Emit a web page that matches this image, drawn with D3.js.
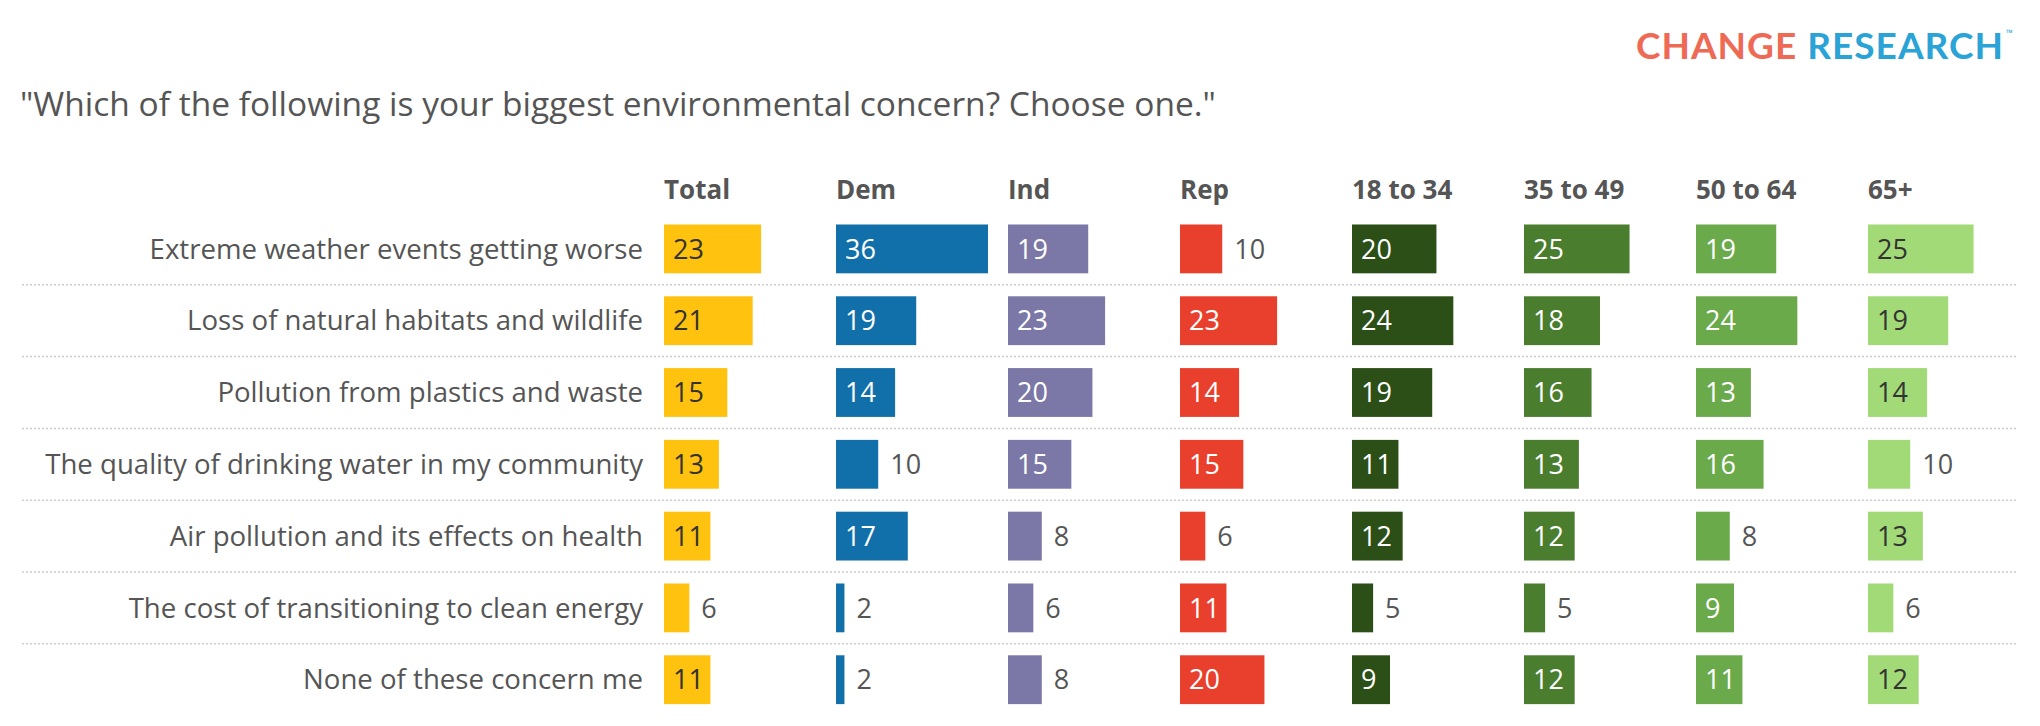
<!DOCTYPE html>
<html><head><meta charset="utf-8">
<script src="https://cdn.jsdelivr.net/npm/d3@7"></script>
<style>body{margin:0;background:#fff;font-family:"Open Sans",Lato,sans-serif;}</style>
</head><body><div id="chart"></div>
<script>
var categories = ["Extreme weather events getting worse", "Loss of natural habitats and wildlife", "Pollution from plastics and waste",
  "The quality of drinking water in my community", "Air pollution and its effects on health", "The cost of transitioning to clean energy", "None of these concern me"];
var groups = ["Total", "Dem", "Ind", "Rep", "18 to 34", "35 to 49", "50 to 64", "65+"];
var colors = ["#FFC20E", "#1170AA", "#7B77A6", "#E8402C", "#2C4F17", "#4A7D2E", "#6AAA4B", "#A2DA78"];
var totalVals = [23, 21, 15, 13, 11, 6, 11];
var demVals = [36, 19, 14, 10, 17, 2, 2];
var indVals = [19, 23, 20, 15, 8, 6, 8];
var repVals = [10, 23, 14, 15, 6, 11, 20];
var age1834 = [20, 24, 19, 11, 12, 5, 9];
var age3549 = [25, 18, 16, 13, 12, 5, 12];
var age5064 = [19, 24, 13, 16, 8, 9, 11];
var age65 = [25, 19, 14, 10, 13, 6, 12];
var series = [totalVals, demVals, indVals, repVals, age1834, age3549, age5064, age65];
var darkText = [true, false, false, false, false, false, false, true];

var W = 2040, H = 726;
var svg = d3.select("#chart").append("svg").attr("width", W).attr("height", H);

// logo + title
var logo = svg.append("text").attr("x", 2004).attr("y", 59).attr("text-anchor", "end")
    .style("font-family", "Lato").style("font-size", "37px").style("font-weight", "bold").style("letter-spacing", "1px");
logo.append("tspan").attr("fill", "#EE6A55").text("CHANGE ");
logo.append("tspan").attr("fill", "#2AA3D6").text("RESEARCH");
svg.append("text").attr("x", 2006).attr("y", 36).attr("fill", "#2AA3D6").style("font-size", "9px").text("™");

svg.append("text").attr("x", 20).attr("y", 116).attr("fill", "#555")
    .style("font-size", "33.5px").text("\"Which of the following is your biggest environmental concern? Choose one.\"");

var x0 = d3.scaleBand().domain(groups).range([664, 664 + 172 * 8]).paddingInner(0);
var w = d3.scaleLinear().domain([0, 36]).range([0, 152]);
var y = d3.scaleBand().domain(categories).range([213, 213 + 71.8 * 7]).paddingInner(0.32).paddingOuter(0.16);
var step = y.step();

// headers
svg.selectAll(".hdr").data(groups).enter().append("text")
    .attr("x", function(d){ return x0(d); }).attr("y", 199)
    .attr("fill", "#555").style("font-size", "26px").style("font-weight", "bold")
    .text(function(d){ return d; });

// row labels
svg.selectAll(".lbl").data(categories).enter().append("text")
    .attr("x", 643).attr("y", function(d){ return y(d) + y.bandwidth() / 2; })
    .attr("dy", "0.35em").attr("text-anchor", "end").attr("fill", "#555")
    .style("font-size", "27.6px").text(function(d){ return d; });

// separators
svg.selectAll(".sep").data(categories.slice(0, -1)).enter().append("line")
    .attr("x1", 22).attr("x2", 2018)
    .attr("y1", function(d){ return y(d) + y.bandwidth() + (step - y.bandwidth()) / 2; })
    .attr("y2", function(d){ return y(d) + y.bandwidth() + (step - y.bandwidth()) / 2; })
    .attr("stroke", "#ccc").attr("stroke-width", 1.5).attr("stroke-dasharray", "2,2");

function inside(d){ return d >= 11 || d === 9; }

groups.forEach(function(g, gi){
    var vals = series[gi];
    var cells = svg.append("g").selectAll("g").data(vals).enter().append("g");
    cells.append("rect")
        .attr("x", x0(g))
        .attr("y", function(d, i){ return y(categories[i]); })
        .attr("width", function(d){ return w(d); })
        .attr("height", y.bandwidth())
        .attr("fill", colors[gi]);
    cells.append("text")
        .attr("x", function(d){ return inside(d) ? x0(g) + 9 : x0(g) + w(d) + 12; })
        .attr("y", function(d, i){ return y(categories[i]) + y.bandwidth() / 2; })
        .attr("dy", "0.36em")
        .attr("fill", function(d){ return !inside(d) ? "#555" : (darkText[gi] ? "#333" : "#fff"); })
        .style("font-size", "27px")
        .text(function(d){ return d; });
});
</script></body></html>
